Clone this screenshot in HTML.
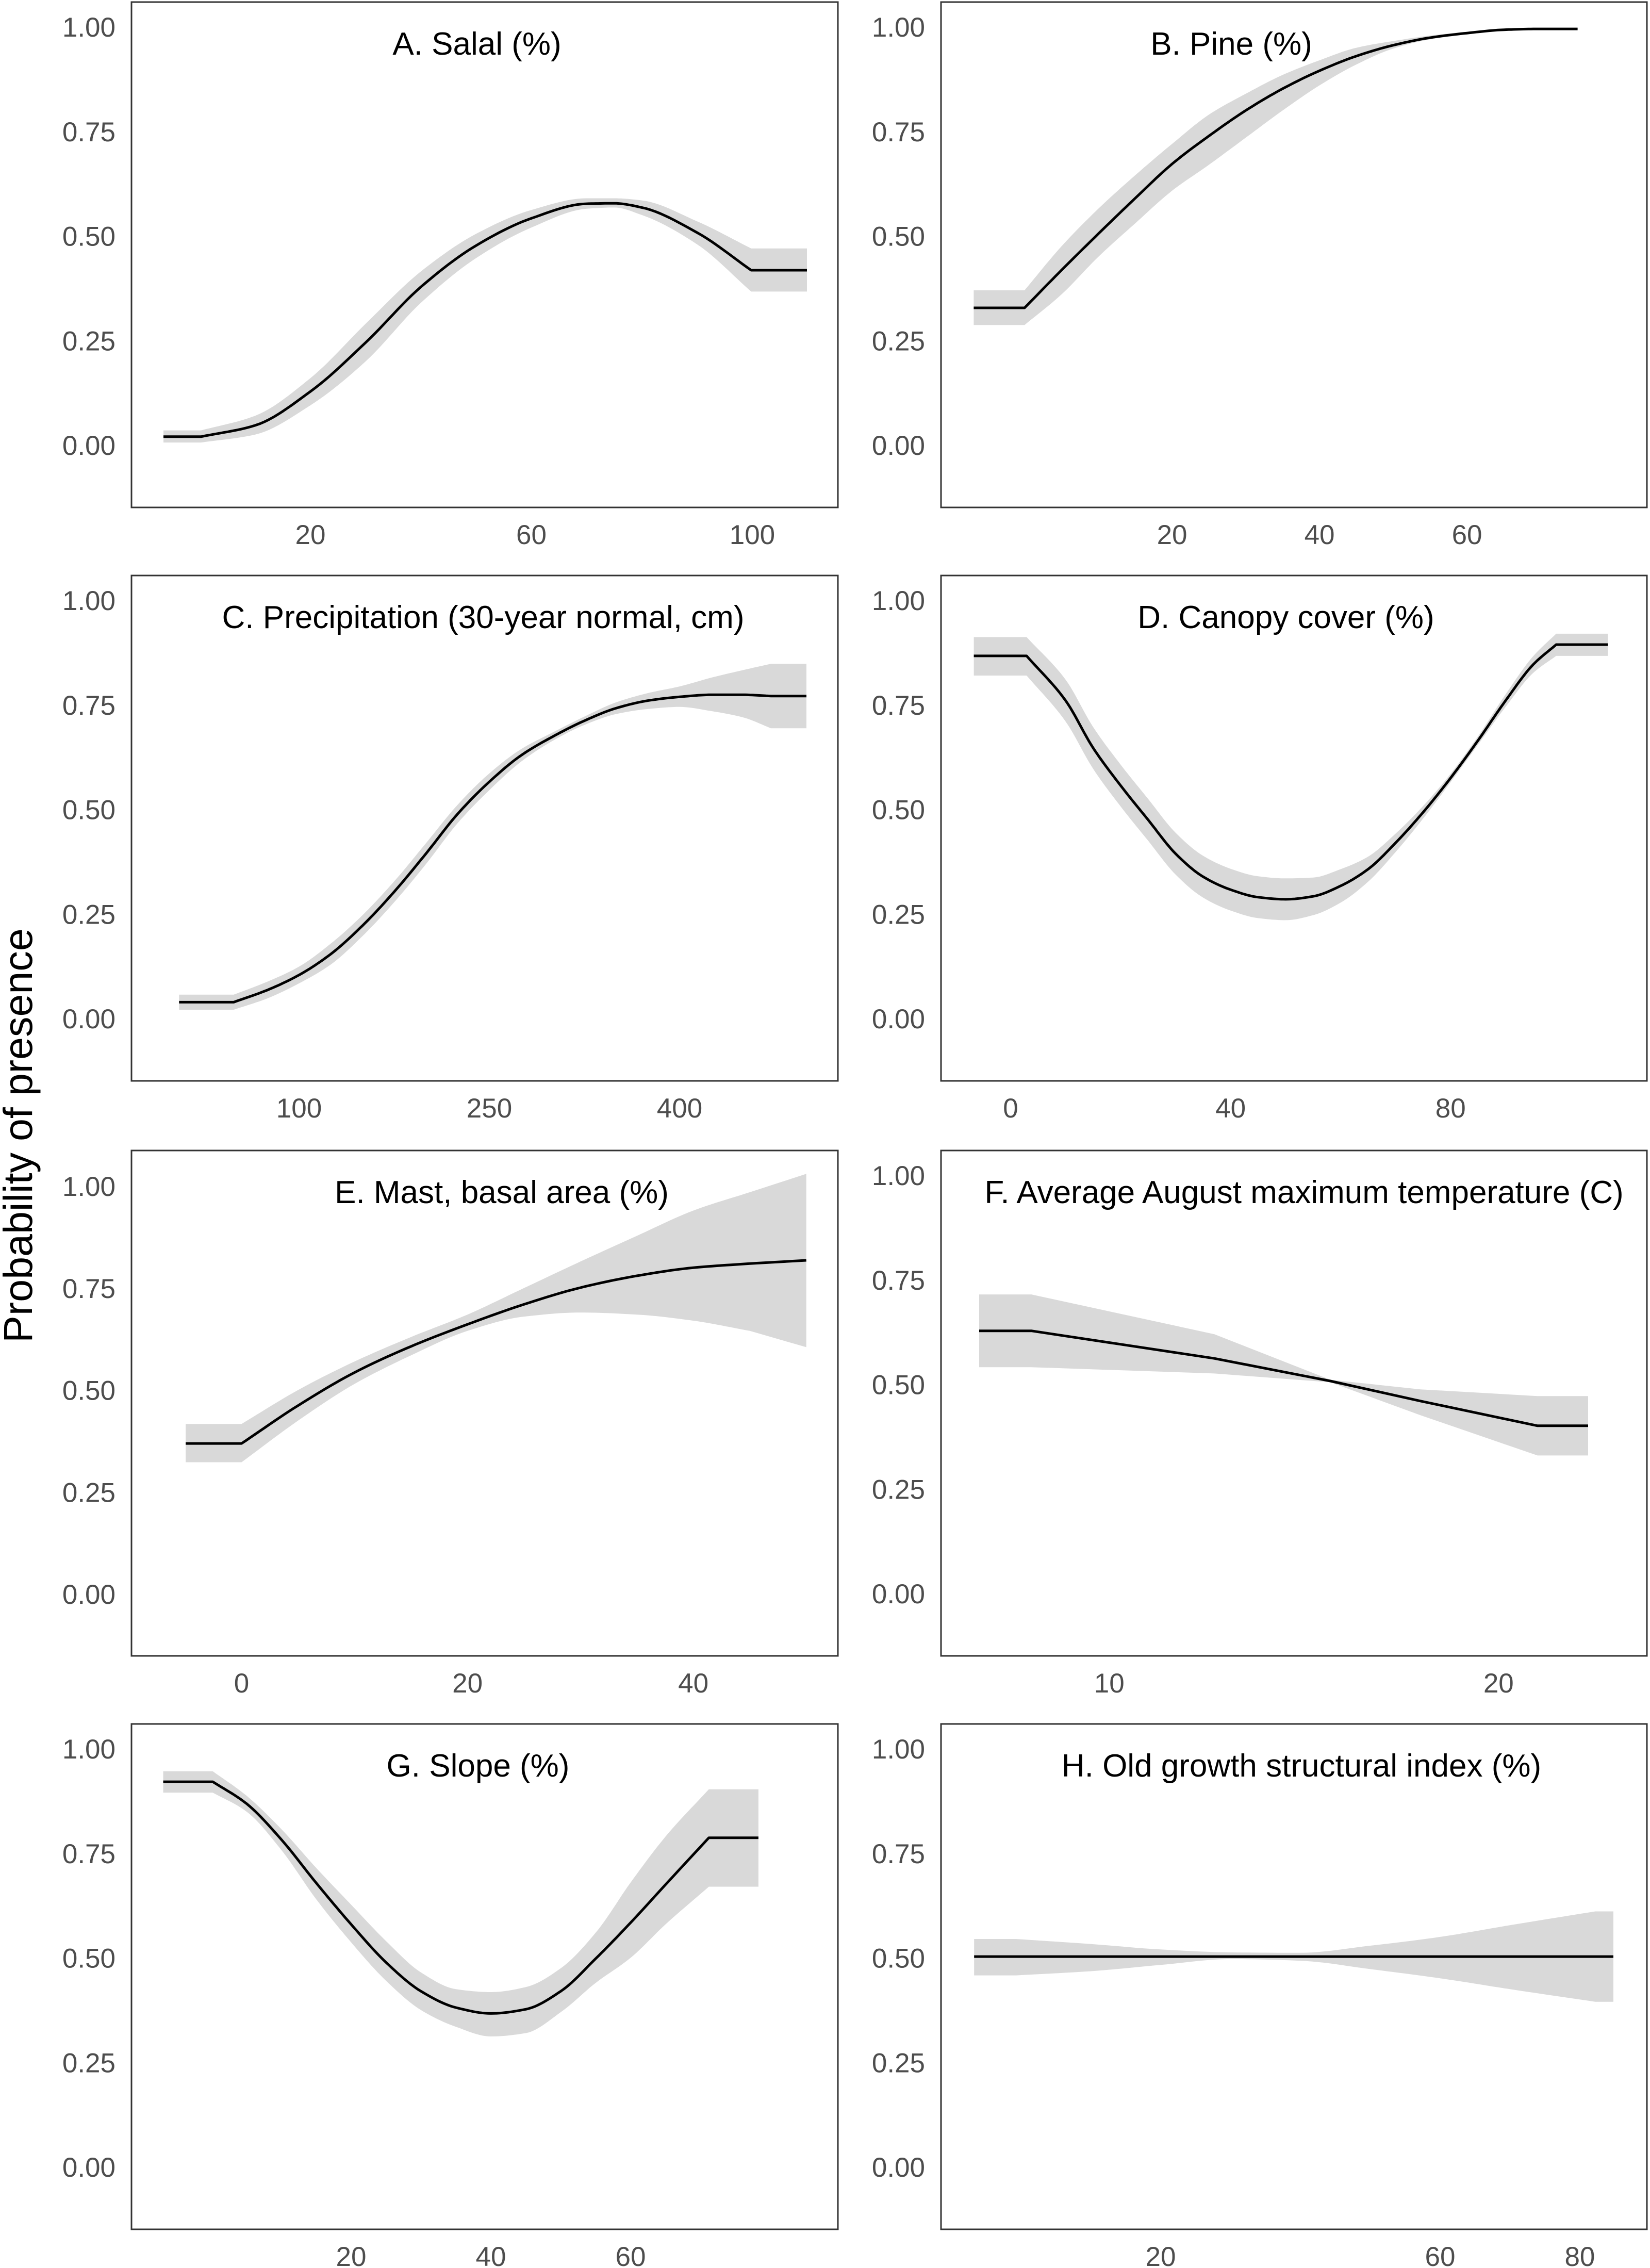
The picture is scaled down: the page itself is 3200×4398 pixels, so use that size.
<!DOCTYPE html>
<html><head><meta charset="utf-8">
<style>
html,body{margin:0;padding:0;background:#fff;}
svg{display:block;}
text{font-family:"Liberation Sans",Arial,sans-serif;}
</style></head>
<body>
<svg id="chart" width="3200" height="4398" viewBox="0 0 3200 4398" xmlns="http://www.w3.org/2000/svg">
<rect x="0" y="0" width="3200" height="4398" fill="#fff"/>
<text transform="translate(62,2202) rotate(-90)" text-anchor="middle" font-size="79" fill="#000">Probability of presence</text>
</svg>
<script>
// ---------- data ----------
const titles = ["A. Salal (%)","B. Pine (%)","C. Precipitation (30-year normal, cm)","D. Canopy cover (%)","E. Mast, basal area (%)","F. Average August maximum temperature (C)","G. Slope (%)","H. Old growth structural index (%)"];
const yTicks = [0, 0.25, 0.5, 0.75, 1.0];
const yTickLabels = ["0.00","0.25","0.50","0.75","1.00"];

const aX  = [-6.6,0.2,10,20,30,40,50,60,70,75,80,90,99.8,109.9];
const aY  = [0.02,0.02,0.047,0.128,0.245,0.378,0.477,0.542,0.577,0.578,0.568,0.508,0.418,0.418];
const aLo = [0.006,0.006,0.025,0.095,0.20,0.34,0.447,0.52,0.565,0.568,0.55,0.48,0.367,0.367];
const aHi = [0.035,0.035,0.07,0.16,0.29,0.415,0.505,0.562,0.59,0.59,0.585,0.535,0.47,0.47];
const aTicks = [20,60,100];
const aDomain = [-12.39,115.5];

const bX  = [-6.9,0,5,10,15,20,25,30,35,40,45,50,55,60,65,69,75];
const bY  = [0.328,0.328,0.418,0.505,0.59,0.672,0.739,0.80,0.852,0.895,0.93,0.956,0.974,0.985,0.993,0.995,0.995];
const bLo = [0.287,0.287,0.36,0.45,0.53,0.608,0.67,0.735,0.80,0.86,0.91,0.948,0.97,0.982,0.991,0.994,0.994];
const bHi = [0.37,0.37,0.475,0.565,0.645,0.72,0.79,0.84,0.885,0.92,0.95,0.966,0.979,0.988,0.995,0.997,0.997];
const bTicks = [20,40,60];
const bDomain = [-11.33,84.4];

const cX  = [5.4,48.5,75,100,125,150,175,200,225,250,275,300,325,350,375,400,425,450,472,500];
const cY  = [0.039,0.039,0.068,0.104,0.154,0.222,0.303,0.394,0.489,0.566,0.629,0.674,0.712,0.742,0.76,0.769,0.774,0.774,0.771,0.771];
const cLo = [0.021,0.021,0.048,0.084,0.129,0.197,0.278,0.369,0.467,0.546,0.614,0.664,0.702,0.728,0.74,0.745,0.735,0.72,0.694,0.694];
const cHi = [0.057,0.057,0.088,0.124,0.179,0.247,0.328,0.419,0.511,0.586,0.644,0.684,0.722,0.756,0.778,0.794,0.815,0.833,0.848,0.848];
const cTicks = [100,250,400];
const cDomain = [-32.1,524.8];

const dX  = [-6.7,2.9,10,15,20,25,30,35,40,45,50,55,60,65,70,75,80,85,90,95,99.2,108.6];
const dY  = [0.867,0.867,0.76,0.647,0.557,0.475,0.394,0.339,0.308,0.29,0.285,0.292,0.317,0.357,0.42,0.493,0.575,0.665,0.76,0.846,0.894,0.894];
const dLo = [0.82,0.82,0.71,0.597,0.507,0.425,0.344,0.289,0.258,0.24,0.235,0.247,0.277,0.327,0.398,0.478,0.565,0.655,0.745,0.826,0.867,0.867];
const dHi = [0.912,0.912,0.81,0.697,0.607,0.525,0.444,0.389,0.358,0.34,0.335,0.337,0.357,0.387,0.442,0.508,0.585,0.675,0.775,0.866,0.92,0.92];
const dTicks = [0,40,80];
const dDomain = [-12.66,115.7];

const eX  = [-4.95,0,5,10,15,20,25,30,35,40,45,50];
const eY  = [0.369,0.369,0.462,0.543,0.607,0.661,0.71,0.751,0.78,0.80,0.81,0.818];
const eLo = [0.323,0.323,0.425,0.515,0.585,0.645,0.68,0.69,0.685,0.67,0.645,0.605];
const eHi = [0.417,0.417,0.50,0.57,0.63,0.685,0.75,0.815,0.878,0.94,0.985,1.03];
const eTicks = [0,20,40];
const eDomain = [-9.75,52.8];

const fX  = [6.66,8,12.7,15.68,18,21,22.3];
const fY  = [0.628,0.628,0.562,0.508,0.46,0.401,0.401];
const fLo = [0.541,0.541,0.526,0.505,0.426,0.33,0.33];
const fHi = [0.715,0.715,0.62,0.511,0.488,0.472,0.472];
const fTicks = [10,20];
const fDomain = [5.68,23.81];

const gX  = [-6.9,0.2,5,10,15,20,25,30,35,40,45,50,55,60,65,71.2,78.3];
const gY  = [0.921,0.921,0.869,0.783,0.679,0.58,0.489,0.42,0.381,0.367,0.377,0.42,0.498,0.584,0.675,0.787,0.787];
const gLo = [0.895,0.895,0.85,0.758,0.64,0.537,0.445,0.375,0.335,0.312,0.32,0.37,0.44,0.50,0.58,0.67,0.67];
const gHi = [0.946,0.946,0.888,0.808,0.715,0.627,0.54,0.465,0.425,0.418,0.43,0.475,0.56,0.68,0.79,0.903,0.903];
const gTicks = [20,40,60];
const gDomain = [-11.44,89.67];

const hX  = [-6.7,-0.7,10,20,30,40,50,60,70,82.2,84.8];
const hY  = [0.503,0.503,0.503,0.503,0.503,0.503,0.503,0.503,0.503,0.503,0.503];
const hLo = [0.458,0.458,0.468,0.483,0.497,0.493,0.473,0.451,0.425,0.395,0.395];
const hHi = [0.545,0.545,0.533,0.52,0.513,0.512,0.529,0.55,0.578,0.611,0.611];
const hTicks = [20,60,80];
const hDomain = [-11.44,89.6];

// ---------- layout ----------
const NS = "http://www.w3.org/2000/svg";
const svg = document.getElementById("chart");
const colLeft = [255, 1825], colW = [1370, 1369];
const rowTop = [4, 1116, 2231, 3343], boxH = 980;
const titleCx = [925, 2388, 937, 2494, 973, 2529, 927, 2524];
const smoothFlags = [true, true, true, true, true, false, true, true];
const panels = [
  {x:aX,y:aY,lo:aLo,hi:aHi,ticks:aTicks,dom:aDomain},
  {x:bX,y:bY,lo:bLo,hi:bHi,ticks:bTicks,dom:bDomain},
  {x:cX,y:cY,lo:cLo,hi:cHi,ticks:cTicks,dom:cDomain},
  {x:dX,y:dY,lo:dLo,hi:dHi,ticks:dTicks,dom:dDomain},
  {x:eX,y:eY,lo:eLo,hi:eHi,ticks:eTicks,dom:eDomain},
  {x:fX,y:fY,lo:fLo,hi:fHi,ticks:fTicks,dom:fDomain},
  {x:gX,y:gY,lo:gLo,hi:gHi,ticks:gTicks,dom:gDomain},
  {x:hX,y:hY,lo:hLo,hi:hHi,ticks:hTicks,dom:hDomain}
];
const letters = ["a","b","c","d","e","f","g","h"];

function mk(tag, attrs){
  const el = document.createElementNS(NS, tag);
  for (const k in attrs) el.setAttribute(k, attrs[k]);
  return el;
}

// monotone cubic (Fritsch-Carlson) on interior points
function mono(xs, ys){
  const n = xs.length;
  if (n < 3) return xs.map((x,i)=>[x,ys[i]]);
  const dx = [], m = [];
  for (let i = 0; i < n-1; i++){ dx.push(xs[i+1]-xs[i]); m.push((ys[i+1]-ys[i])/dx[i]); }
  const t = [m[0]];
  for (let i = 1; i < n-1; i++){
    if (m[i-1]*m[i] <= 0) t.push(0);
    else { const w1 = 2*dx[i]+dx[i-1], w2 = dx[i]+2*dx[i-1]; t.push((w1+w2)/(w1/m[i-1]+w2/m[i])); }
  }
  t.push(m[n-2]);
  const out = [];
  for (let i = 0; i < n-1; i++){
    const steps = 12;
    for (let s = 0; s < steps; s++){
      const u = s/steps, h = dx[i];
      const h00 = 2*u*u*u-3*u*u+1, h10 = u*u*u-2*u*u+u, h01 = -2*u*u*u+3*u*u, h11 = u*u*u-u*u;
      out.push([xs[i]+u*h, h00*ys[i]+h10*h*t[i]+h01*ys[i+1]+h11*h*t[i+1]]);
    }
  }
  out.push([xs[n-1], ys[n-1]]);
  return out;
}
// flat ends stay straight with sharp corners; interior is smoothed
function curve(xs, ys, doSmooth){
  const n = xs.length;
  if (!doSmooth) return xs.map((x,i)=>[x,ys[i]]);
  const inner = mono(xs.slice(1, n-1), ys.slice(1, n-1));
  return [[xs[0], ys[0]]].concat(inner, [[xs[n-1], ys[n-1]]]);
}

panels.forEach((p, i) => {
  const col = i % 2, row = Math.floor(i / 2);
  const left = colLeft[col], w = colW[col], top = rowTop[row];
  const zeroOff = (i === 4) ? 860 : 859;
  const unit = (i === 4) ? 791 : 811;
  const sx = v => left + (v - p.dom[0]) / (p.dom[1] - p.dom[0]) * w;
  const sy = v => top + zeroOff - v * unit;
  const sm = smoothFlags[i];

  const g = mk("g", {});
  
  
  svg.appendChild(g);

  const hiPts = curve(p.x, p.hi, sm), loPts = curve(p.x, p.lo, sm), yPts = curve(p.x, p.y, sm);

  let d = "";
  hiPts.forEach((q, k) => { d += (k ? "L" : "M") + sx(q[0]).toFixed(1) + "," + sy(q[1]).toFixed(1); });
  for (let k = loPts.length - 1; k >= 0; k--) d += "L" + sx(loPts[k][0]).toFixed(1) + "," + sy(loPts[k][1]).toFixed(1);
  d += "Z";
  const band = mk("path", {d: d, fill: "#d9d9d9", stroke: "none"});
  
  
  g.appendChild(band);

  let ld = "";
  yPts.forEach((q, k) => { ld += (k ? "L" : "M") + sx(q[0]).toFixed(1) + "," + sy(q[1]).toFixed(1); });
  const line = mk("path", {d: ld, fill: "none", stroke: "#000", "stroke-width": 5, "stroke-linejoin": "round"});
  
  
  g.appendChild(line);

  const frame = mk("rect", {x: left, y: top, width: w, height: boxH, fill: "none", stroke: "#333", "stroke-width": 3});
  
  
  g.appendChild(frame);

  const t = mk("text", {x: titleCx[i], y: top + 102, "text-anchor": "middle", "font-size": 62, fill: "#000"});
  t.textContent = titles[i];
  
  
  g.appendChild(t);

  yTicks.forEach((v, k) => {
    const yl = mk("text", {x: left - 31, y: sy(v) + 19, "text-anchor": "end", "font-size": 53, fill: "#4d4d4d"});
    yl.textContent = yTickLabels[k];
    
    
    g.appendChild(yl);
  });

  p.ticks.forEach(v => {
    const xl = mk("text", {x: sx(v), y: top + boxH + 71, "text-anchor": "middle", "font-size": 53, fill: "#4d4d4d"});
    xl.textContent = String(v);
    
    
    g.appendChild(xl);
  });
});
</script>
</body></html>
